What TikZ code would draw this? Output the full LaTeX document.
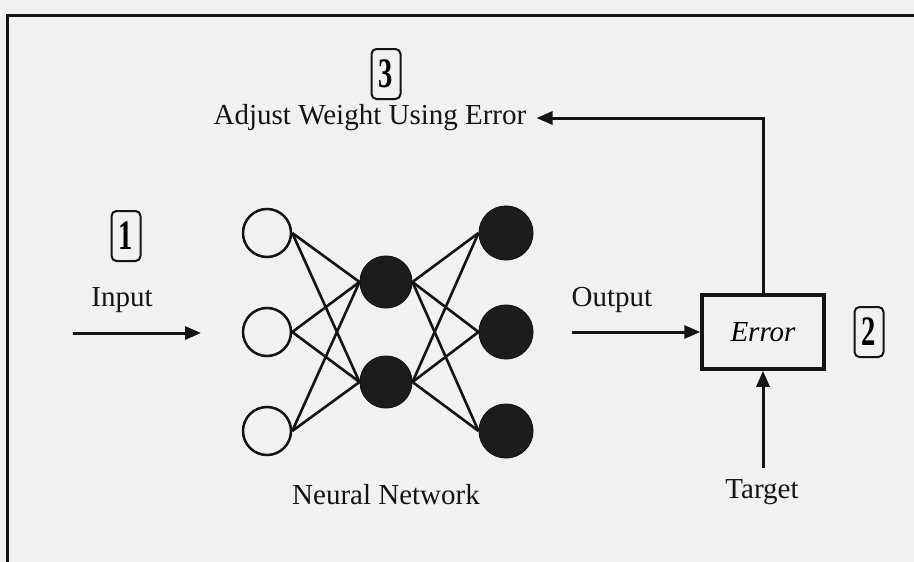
\documentclass[tikz,border=0pt]{standalone}
\usepackage{fontspec}
\usepackage{graphicx}
\setmainfont{Liberation Serif}
\usetikzlibrary{arrows.meta}
\definecolor{paper}{RGB}{241,241,241}
\definecolor{ink}{RGB}{20,20,20}
\definecolor{cell}{RGB}{28,28,28}

\begin{document}
\begin{tikzpicture}[x=1pt,y=-1pt,
  lbl/.style={font=\fontsize{29}{34}\selectfont, text=ink, inner sep=0pt},
  numbox/.style={draw=ink, line width=2pt, rounded corners=5pt,
    minimum width=29pt, minimum height=50pt, inner sep=0pt,
    font=\fontsize{42}{42}\selectfont\bfseries},
  innode/.style={circle, draw=ink, line width=2.5pt, minimum size=48pt, inner sep=0pt},
  hidnode/.style={circle, draw=ink, fill=cell, line width=1pt, minimum size=52pt, inner sep=0pt},
  outnode/.style={circle, draw=ink, fill=cell, line width=1pt, minimum size=54pt, inner sep=0pt},
  link/.style={draw=ink, line width=2.6pt},
  flow/.style={draw=ink, line width=3pt, -{Triangle[length=16pt,width=13pt]}},
  errbox/.style={draw=ink, line width=3.5pt, minimum width=122pt,
    minimum height=74pt, inner sep=0pt}
]
% page and frame
\fill[paper] (0,0) rectangle (914,562);
\useasboundingbox (0,0) rectangle (914,562);
\coordinate (frameTL) at (7,15);
\draw[ink, line width=3pt] (frameTL -| 0,0) ++(930,0) -- (frameTL) -- ++(0,560);

% network nodes
\node[innode] (i1) at (267,233) {};
\node[innode] (i2) at (267,332) {};
\node[innode] (i3) at (267,431) {};
\node[hidnode] (h1) at (386,282) {};
\node[hidnode] (h2) at (386,382) {};
\node[outnode] (o1) at (506,233) {};
\node[outnode] (o2) at (506,332) {};
\node[outnode] (o3) at (506,431) {};

% weights
\foreach \a in {i1,i2,i3}
  \foreach \b in {h1,h2}
    \draw[link] (\a.east) -- (\b.west);
\foreach \a in {h1,h2}
  \foreach \b in {o1,o2,o3}
    \draw[link] (\a.east) -- (\b.west);

% labels
\node[lbl] (nn) at (386,495) {Neural Network};
\node[lbl] (inp) at (122,300) {Input};
\node[lbl] (outp) at (612,300) {Output};
\node[lbl] (adj) at (370,118) {Adjust Weight Using Error};
\node[lbl] (tgt) at (762,492) {Target};

% error box
\node[errbox, font=\fontsize{29}{34}\selectfont\itshape] (err) at (763,332) {Error};

% step numbers
\node[numbox] (n1) at (126,236) {\scalebox{0.68}[1]{1}};
\node[numbox] (n2) at (869,332) {\scalebox{0.68}[1]{2}};
\node[numbox] (n3) at (386,74) {\scalebox{0.68}[1]{3}};

% arrows
\coordinate (inA) at (73,333);
\coordinate (inB) at (201,333);
\coordinate (outA) at (572,332);
\coordinate (tgtA) at (763,468);
\draw[flow] (inA) -- (inB);
\draw[flow] (outA) -- (err.west);
\draw[flow] (tgtA) -- (err.south);
\draw[flow] (err.north) |- ([xshift=10pt]adj.east);
\end{tikzpicture}
\end{document}
